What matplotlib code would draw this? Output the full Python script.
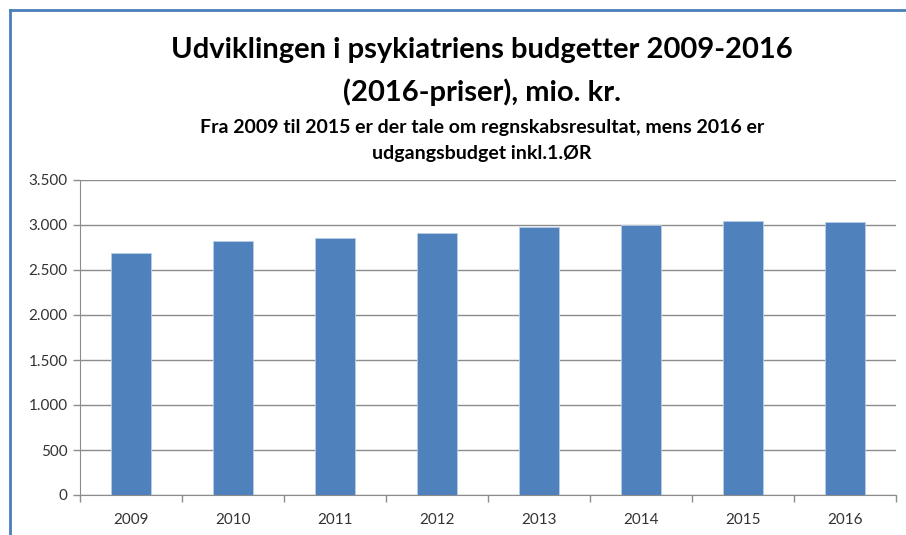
import matplotlib
matplotlib.use("Agg")
import matplotlib.pyplot as plt
from matplotlib.lines import Line2D
from matplotlib.ticker import FuncFormatter, FixedLocator
import numpy as np

years = ["2009", "2010", "2011", "2012", "2013", "2014", "2015", "2016"]
values = [2686, 2822, 2852, 2915, 2974, 3000, 3048, 3030]
yticks = [0, 500, 1000, 1500, 2000, 2500, 3000, 3500]

title1 = "Udviklingen i psykiatriens budgetter 2009-2016"
title2 = "(2016-priser), mio. kr."
sub1 = "Fra 2009 til 2015 er der tale om regnskabsresultat, mens 2016 er"
sub2 = "udgangsbudget inkl.1.ØR"

W, H = 906, 535
fig = plt.figure(figsize=(W / 100, H / 100), dpi=100)
fig.patch.set_facecolor("white")

font = "Lato"

# frame border (cropped screenshot of a chart frame)
fig.add_artist(Line2D([10 / W, 10 / W], [0, 1 - 10 / H], transform=fig.transFigure,
                      color="#4A7EBB", lw=2.0))
fig.add_artist(Line2D([10 / W, 1], [1 - 10 / H, 1 - 10 / H], transform=fig.transFigure,
                      color="#4A7EBB", lw=2.0))

ax = fig.add_axes([80 / W, 1 - 495 / H, (896 - 80) / W, (495 - 180) / H])
x = np.arange(len(years))
ax.bar(x, values, width=0.4, color="#4F81BD", edgecolor="#B9CDE5", linewidth=0.6, zorder=3)
ax.set_xlim(-0.5, len(years) - 0.5)
ax.set_ylim(0, 3500)
ax.set_yticks(yticks)
ax.yaxis.set_major_formatter(FuncFormatter(lambda v, p: f"{int(v):,}".replace(",", ".")))
ax.grid(axis="y", color="#8C8C8C", lw=1.0, zorder=0)
ax.set_xticks(x)
ax.set_xticklabels(years)
ax.xaxis.set_minor_locator(FixedLocator(np.arange(-0.5, len(years), 1.0)))
ax.tick_params(axis="x", which="major", length=0, pad=13, labelsize=11, labelcolor="#333333")
ax.tick_params(axis="x", which="minor", length=5, color="#8C8C8C", width=1)
ax.tick_params(axis="y", length=5, color="#8C8C8C", width=1, labelsize=11, labelcolor="#333333", pad=4)
for lab in ax.get_xticklabels() + ax.get_yticklabels():
    lab.set_fontfamily(font)
for s in ["top", "right"]:
    ax.spines[s].set_visible(False)
ax.spines["left"].set_color("#8C8C8C")
ax.spines["bottom"].set_color("#8C8C8C")

cx = 482 / W
fig.text(cx, 1 - 50 / H, title1, ha="center", va="center", fontsize=21, fontweight="bold", family=font, color="#000000")
fig.text(cx, 1 - 92 / H, title2, ha="center", va="center", fontsize=21, fontweight="bold", family=font, color="#000000")
fig.text(cx, 1 - 128 / H, sub1, ha="center", va="center", fontsize=14, fontweight="bold", family=font, color="#000000")
fig.text(cx, 1 - 153 / H, sub2, ha="center", va="center", fontsize=14, fontweight="bold", family=font, color="#000000")

fig.savefig("out.png", dpi=100)
